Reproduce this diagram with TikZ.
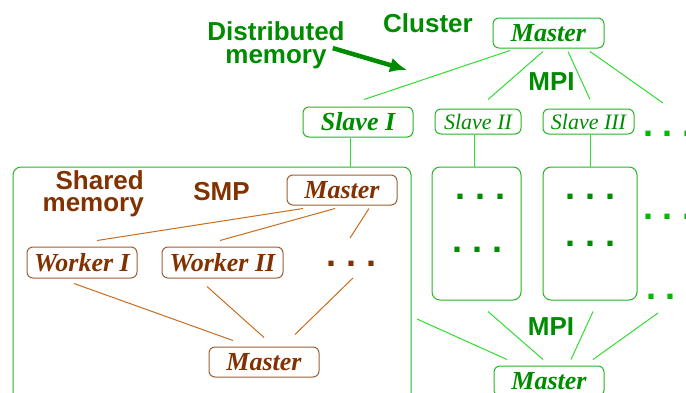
\documentclass[tikz,border=0pt]{standalone}
\usepackage{fontspec}
\setmainfont{Liberation Serif}
\newfontfamily\hsans{Liberation Sans}
\usetikzlibrary{arrows.meta}
\definecolor{GText}{RGB}{0,140,0}
\definecolor{GBorder}{RGB}{40,180,40}
\definecolor{GLine}{RGB}{50,220,50}
\definecolor{GDotL}{RGB}{0,185,0}
\definecolor{BText}{RGB}{130,50,0}
\definecolor{BBorder}{RGB}{155,95,55}
\definecolor{BLine}{RGB}{200,110,30}
\tikzset{
  gbox/.style={draw=GBorder, rounded corners=6pt, line width=1pt, text=GText,
    font=\fontsize{26}{28}\selectfont\bfseries\itshape, inner sep=0pt},
  gboxs/.style={gbox, font=\fontsize{22}{24}\selectfont\itshape},
  bbox/.style={draw=BBorder, rounded corners=6pt, line width=1pt, text=BText,
    font=\fontsize{26}{28}\selectfont\bfseries\itshape, inner sep=0pt},
  frame/.style={draw=GBorder, rounded corners=8pt, line width=1pt, inner sep=0pt},
  glab/.style={font=\hsans\bfseries\fontsize{26}{23}\selectfont, text=GText, inner sep=0pt},
  blab/.style={font=\hsans\bfseries\fontsize{26}{22}\selectfont, text=BText, inner sep=0pt},
  dotrow/.style={font=\hsans\bfseries\fontsize{36}{36}\selectfont, inner sep=0pt},
  gl/.style={draw=GLine, line width=1pt},
  bl/.style={draw=BLine, line width=1pt},
}
\begin{document}
\begin{tikzpicture}[x=1pt,y=-1pt]
\clip (0,0) rectangle (686,392);
\fill[white] (0,0) rectangle (686,392);
% labels
\node[glab, anchor=base] (cl) at (428,32) {Cluster};
\node[glab, anchor=north, align=center] (dm) at (276,21) {Distributed\\memory};
\node[glab, anchor=base] (mpi1) at (551.5,90) {MPI};
\node[glab, anchor=base] (mpi2) at (551,335) {MPI};
\node[blab, anchor=north east, align=right] (sm) at (144,170) {Shared\\memory};
\node[blab, anchor=base] (smp) at (221.5,200) {SMP};
% cluster boxes
\node[gbox, minimum width=111pt, minimum height=30pt] (topm) at (548.5,33) {Master};
\node[gbox, minimum width=110pt, minimum height=30pt] (s1) at (358,122) {Slave I};
\node[gboxs, minimum width=86pt, minimum height=25pt] (s2) at (478,121.5) {Slave II};
\node[gboxs, minimum width=91pt, minimum height=25pt] (s3) at (588.5,121.5) {Slave III};
\node[gbox, minimum width=110pt, minimum height=30pt] (botm) at (549,381) {Master};
% frames
\node[frame, minimum width=398pt, minimum height=250pt] (smpbox) at (212,292) {};
\node[frame, minimum width=89pt, minimum height=133pt] (b2) at (476.5,233.5) {};
\node[frame, minimum width=94pt, minimum height=133pt] (b3) at (590,233.5) {};
% dots
\node[dotrow, text=GText] (d21) at (480.3,197) {.\ .\ .};
\node[dotrow, text=GText] (d22) at (477.7,250) {.\ .\ .};
\node[dotrow, text=GText] (d31) at (590.7,197) {.\ .\ .};
\node[dotrow, text=GText] (d32) at (590.7,244) {.\ .\ .};
\node[dotrow, text=GDotL] (dr1) at (668,134) {.\ .\ .};
\node[dotrow, text=GDotL] (dr2) at (668,217) {.\ .\ .};
\node[dotrow, text=GDotL] (dr3) at (671,297) {.\ .\ .};
% SMP boxes
\node[bbox, minimum width=110pt, minimum height=30pt] (smpm) at (342,190) {Master};
\node[bbox, minimum width=110pt, minimum height=31pt] (w1) at (82,262.5) {Worker I};
\node[bbox, minimum width=121pt, minimum height=31pt] (w2) at (222.5,262.5) {Worker II};
\node[dotrow, text=BText] (bd) at (352,264) {.\ .\ .};
\node[bbox, minimum width=110pt, minimum height=30pt] (bm) at (264,362) {Master};
% free ends
\coordinate (r1) at (663,103);
\coordinate (lm) at (417,319);
\coordinate (rm) at (658,313);
\coordinate (at) at (407,70);
% arrow
\draw[draw=GText, line width=4.5pt, -{Latex[length=17pt,width=15pt]}]
  ([shift={(-12pt,20.5pt)}]dm.south east) -- (at);
% cluster connectors
\draw[gl] ([shift={(-38.5pt,-2pt)}]topm.south) -- ([shift={(6pt,7pt)}]s1.north);
\draw[gl] ([shift={(-5.5pt,-3pt)}]topm.south) -- ([shift={(10pt,9pt)}]s2.north);
\draw[gl] ([shift={(19.5pt,-3pt)}]topm.south) -- ([shift={(1.5pt,9pt)}]s3.north);
\draw[gl] ([shift={(41.5pt,-3pt)}]topm.south) -- (r1);
\coordinate (s1l) at ([xshift=-8pt]s1.south);
\coordinate (s2l) at ([xshift=-4pt]s2.south);
\coordinate (s3l) at ([xshift=1.5pt]s3.south);
\draw[gl] (s1l) -- (s1l |- smpbox.north);
\draw[gl] (s2l) -- (s2l |- b2.north);
\draw[gl] (s3l) -- (s3l |- b3.north);
\draw[gl] (lm) -- ([shift={(-42pt,6pt)}]botm.north);
\draw[gl] ([shift={(11.5pt,-11pt)}]b2.south) -- ([shift={(-6pt,6pt)}]botm.north);
\draw[gl] ([shift={(3pt,-11pt)}]b3.south) -- ([shift={(22pt,6pt)}]botm.north);
\draw[gl] (rm) -- ([shift={(44pt,6pt)}]botm.north);
% SMP connectors
\draw[bl] ([shift={(-39pt,-3pt)}]smpm.south) -- ([shift={(15pt,6pt)}]w1.north);
\draw[bl] ([shift={(-7pt,-3pt)}]smpm.south) -- ([shift={(-2.5pt,6pt)}]w2.north);
\draw[bl] ([shift={(27pt,-3pt)}]smpm.south) -- ([shift={(-2pt,26pt)}]bd.center);
\draw[bl] ([shift={(-8pt,-5pt)}]w1.south) -- ([shift={(-31pt,6pt)}]bm.north);
\draw[bl] ([shift={(-15.5pt,-8pt)}]w2.south) -- ([shift={(0pt,9pt)}]bm.north);
\draw[bl] ([shift={(1pt,-14pt)}]bd.center) -- ([shift={(31pt,12pt)}]bm.north);
\end{tikzpicture}
\end{document}
